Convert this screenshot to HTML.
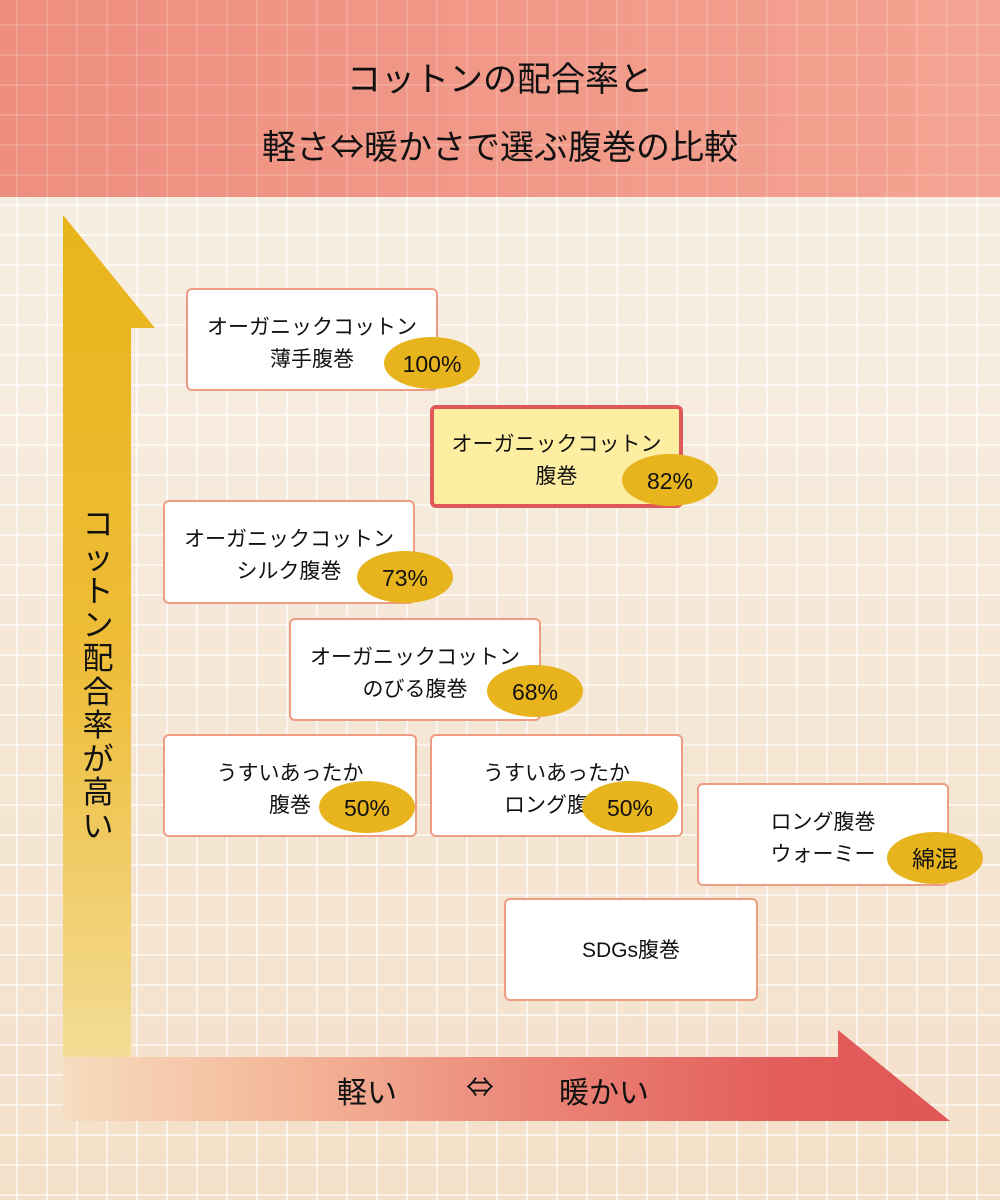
<!DOCTYPE html>
<html><head><meta charset="utf-8"><style>
*{margin:0;padding:0;box-sizing:border-box}
body{width:1000px;height:1200px;position:relative;overflow:hidden;font-family:"Liberation Sans","Noto Sans CJK JP",sans-serif;color:#222;
background:linear-gradient(180deg,#f8f1e8 0%,#f3e0c9 100%);}
.grid{position:absolute;left:0;top:0;width:1000px;height:1200px;
background-image:linear-gradient(90deg,rgba(255,255,255,.6) 2px,transparent 2px),linear-gradient(0deg,rgba(255,255,255,.6) 2px,transparent 2px);
background-size:30px 30px;background-position:16px 26px;}
.head{position:absolute;left:0;top:0;width:1000px;height:197px;background:linear-gradient(90deg,#ee8e7f,#f4a392);}
.head .grid2{position:absolute;inset:0;background-image:linear-gradient(90deg,rgba(255,255,255,.15) 2px,transparent 2px),linear-gradient(0deg,rgba(255,255,255,.15) 2px,transparent 2px);background-size:30px 30px;background-position:16px 26px;}
.t{position:absolute;left:0;width:1000px;text-align:center;font-size:34px;color:#111;}
.arr{font-family:"Noto Sans CJK JP",sans-serif;}
.box{position:absolute;background:#fff;border:2px solid #ef9c85;border-radius:6px;font-size:21px;text-align:center;line-height:32px;padding-top:22px;color:#111}
.box.hl{background:#fdeea2;border:4px solid #e0585a;padding-top:20px}
.badge{position:absolute;background:#e8b41e;border-radius:50%;font-size:23px;text-align:center;line-height:54px;width:96px;height:52px;color:#111}
.vt{position:absolute;left:80px;top:508px;width:36px;font-size:31px;line-height:33.5px;text-align:center;color:#111}
.ht{position:absolute;top:1068px;font-size:30px;color:#111}
</style></head><body>
<div class="grid"></div>
<div class="head"><div class="grid2"></div>
<div class="t" style="top:52px">コットンの配合率と</div>
<div class="t" style="top:120px">軽さ<span class="arr">⇔</span>暖かさで選ぶ腹巻の比較</div>
</div>
<svg width="1000" height="1200" style="position:absolute;left:0;top:0">
<defs>
<linearGradient id="gy" x1="0" y1="0" x2="0" y2="1"><stop offset="0" stop-color="#e8b51a"/><stop offset=".55" stop-color="#eebd3a"/><stop offset="1" stop-color="#f3dc95"/></linearGradient>
<linearGradient id="gr" x1="0" y1="0" x2="1" y2="0"><stop offset="0" stop-color="#f7dcbf"/><stop offset=".25" stop-color="#f4b79a"/><stop offset=".5" stop-color="#ec8b7c"/><stop offset=".8" stop-color="#e35e5c"/><stop offset="1" stop-color="#e15656"/></linearGradient>
</defs>
<polygon points="63,215 155,328 131,328 131,1057 63,1057" fill="url(#gy)"/>
<polygon points="63,1057 838,1057 838,1030 950,1121 63,1121" fill="url(#gr)"/>
</svg>
<div class="vt">コ<br>ッ<br>ト<br>ン<br>配<br>合<br>率<br>が<br>高<br>い</div>
<div class="ht" style="left:337px">軽い</div>
<div class="ht arr" style="left:466px;font-size:28px;top:1066px">⇔</div>
<div class="ht" style="left:559px">暖かい</div>

<div class="box" style="left:186px;top:288px;width:252px;height:103px">オーガニックコットン<br>薄手腹巻</div>
<div class="badge" style="left:384px;top:337px">100%</div>

<div class="box hl" style="left:430px;top:405px;width:253px;height:103px">オーガニックコットン<br>腹巻</div>
<div class="badge" style="left:622px;top:454px">82%</div>

<div class="box" style="left:163px;top:500px;width:252px;height:104px">オーガニックコットン<br>シルク腹巻</div>
<div class="badge" style="left:357px;top:551px">73%</div>

<div class="box" style="left:289px;top:618px;width:252px;height:103px">オーガニックコットン<br>のびる腹巻</div>
<div class="badge" style="left:487px;top:665px">68%</div>

<div class="box" style="left:163px;top:734px;width:254px;height:103px">うすいあったか<br>腹巻</div>
<div class="badge" style="left:319px;top:781px">50%</div>

<div class="box" style="left:430px;top:734px;width:253px;height:103px">うすいあったか<br>ロング腹巻</div>
<div class="badge" style="left:582px;top:781px">50%</div>

<div class="box" style="left:697px;top:783px;width:252px;height:103px">ロング腹巻<br>ウォーミー</div>
<div class="badge" style="left:887px;top:832px">綿混</div>

<div class="box" style="left:504px;top:898px;width:254px;height:103px;padding-top:35px">SDGs腹巻</div>
</body></html>
